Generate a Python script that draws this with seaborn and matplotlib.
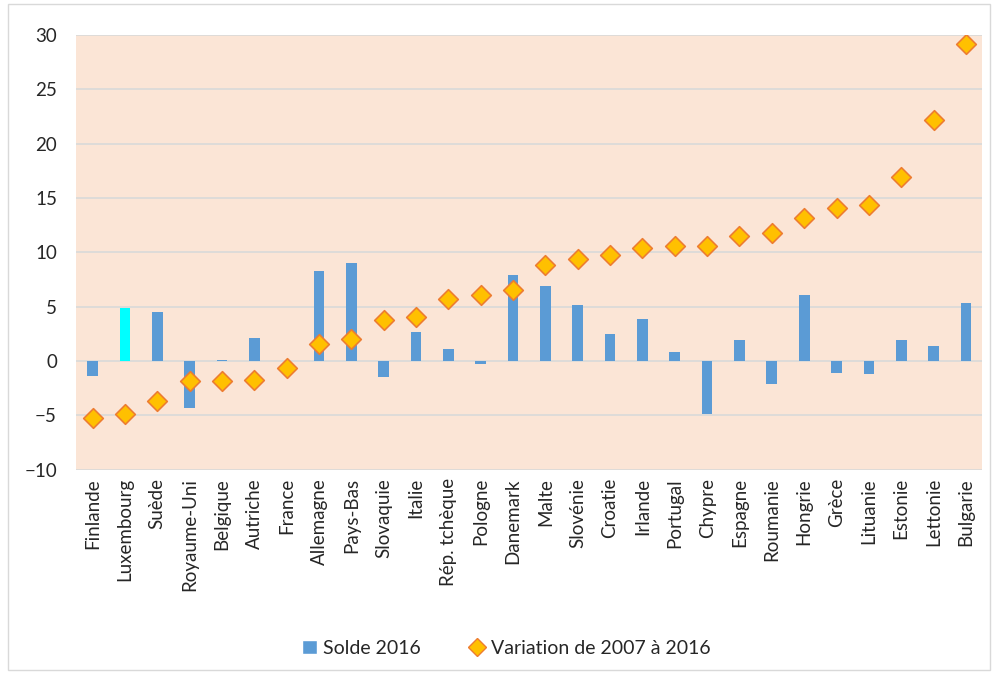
import numpy as np
import pandas as pd
import seaborn as sns
import matplotlib.pyplot as plt
from matplotlib.lines import Line2D
from matplotlib.patches import Patch, Rectangle

pays = ['Finlande', 'Luxembourg', 'Suède', 'Royaume-Uni', 'Belgique', 'Autriche',
        'France', 'Allemagne', 'Pays-Bas', 'Slovaquie', 'Italie', 'Rép. tchèque',
        'Pologne', 'Danemark', 'Malte', 'Slovénie', 'Croatie', 'Irlande', 'Portugal',
        'Chypre', 'Espagne', 'Roumanie', 'Hongrie', 'Grèce', 'Lituanie', 'Estonie',
        'Lettonie', 'Bulgarie']
solde_2016 = [-1.4, 4.85, 4.5, -4.3, 0.1, 2.1, 0.0, 8.3, 9.0, -1.5, 2.7, 1.1,
              -0.3, 7.9, 6.9, 5.2, 2.5, 3.9, 0.8, -4.9, 1.9, -2.1, 6.1, -1.1,
              -1.15, 1.9, 1.35, 5.3]
variation = [-5.25, -4.9, -3.7, -1.85, -1.85, -1.7, -0.6, 1.6, 2.05, 3.75, 4.1, 5.75,
             6.05, 6.55, 8.85, 9.35, 9.8, 10.4, 10.6, 10.6, 11.55, 11.8, 13.2, 14.1,
             14.35, 16.9, 22.2, 29.2]

df = pd.DataFrame({'pays': pays, 'solde': solde_2016, 'variation': variation})

bleu = '#5B9BD5'
couleurs = {p: ('#00FFFF' if p == 'Luxembourg' else bleu) for p in pays}

sns.set_style('white')
plt.rcParams['font.family'] = ['Lato', 'DejaVu Sans']

fig = plt.figure(figsize=(9.92, 6.73), dpi=100)
ax = fig.add_axes([0.077, 0.302, 0.913, 0.646])
ax.set_facecolor('#FBE5D6')

sns.barplot(data=df, x='pays', y='solde', hue='pays', palette=couleurs, order=pays,
            width=0.33, saturation=1, linewidth=0, legend=False, ax=ax, zorder=2)
sns.stripplot(data=df, x='pays', y='variation', order=pays, jitter=False, marker='D',
              size=10, color='#FFC000', edgecolor='#ED7D31', linewidth=1.2, ax=ax, zorder=3)

ax.set_ylim(-10, 30)
ax.set_yticks(range(-10, 31, 5))
ax.set_xlim(-0.5, len(pays) - 0.5)
ax.yaxis.grid(True, color='#D9D9D9', linewidth=1.2, zorder=0)
ax.set_axisbelow(True)
for s in ax.spines.values():
    s.set_visible(False)
ax.set_xlabel('')
ax.set_ylabel('')
ax.tick_params(axis='y', labelsize=13.5, length=0, pad=14)
ax.tick_params(axis='x', labelsize=13.5, length=0, pad=6, rotation=90)

handles = [Patch(facecolor=bleu, label='Solde 2016'),
           Line2D([], [], marker='D', linestyle='none', markersize=9,
                  markerfacecolor='#FFC000', markeredgecolor='#ED7D31',
                  label='Variation de 2007 à 2016')]
fig.legend(handles=handles, loc='center', bbox_to_anchor=(0.51, 0.037), ncol=2,
           frameon=False, fontsize=14, handlelength=0.8, handletextpad=0.3,
           columnspacing=2.5)

fig.patches.append(Rectangle((0.008, 0.004), 0.99, 0.99, transform=fig.transFigure,
                             fill=False, edgecolor='#D9D9D9', linewidth=1))

fig.savefig('out.png', dpi=100)
